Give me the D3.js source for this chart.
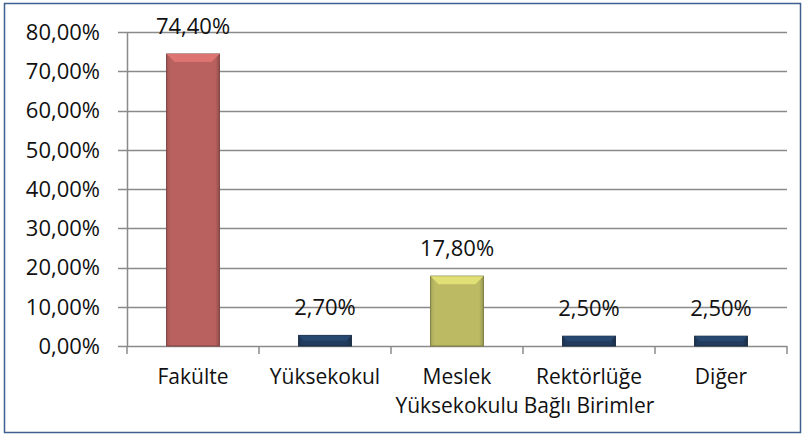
<!DOCTYPE html>
<html><head><meta charset="UTF-8"><style>
body { margin: 0; background: #fff; }
text { font-family: "Open Sans", sans-serif; fill: #111; }
</style>
</head>
<body>
<svg width="805" height="436"></svg>
<script src="https://cdn.jsdelivr.net/npm/d3@7"></script>
<script>

var categories = [["Fakülte"], ["Yüksekokul"], ["Meslek", "Yüksekokulu"], ["Rektörlüğe", "Bağlı Birimler"], ["Diğer"]];
var values = [74.4, 2.7, 17.8, 2.5, 2.5];
var barColors = ["#b9615f", "#213c5e", "#bcbb63", "#213c5e", "#213c5e"];
var yTicks = [0, 10, 20, 30, 40, 50, 60, 70, 80];

var svg = d3.select("svg");

// chart frame
svg.append("rect")
    .attr("x", 4.5).attr("y", 3.5)
    .attr("width", 796).attr("height", 429)
    .attr("fill", "none").attr("stroke", "#3f5f8f").attr("stroke-width", 1.5);

var margin = {top: 32, left: 127, right: 18, bottom: 90};
var width = 805 - margin.left - margin.right,
    height = 436 - margin.top - margin.bottom;
var g = svg.append("g").attr("transform", "translate(" + margin.left + "," + margin.top + ")");

var x = d3.scaleBand().domain(d3.range(values.length)).range([0, width]).paddingInner(0.6).paddingOuter(0.3);
var xTick = d3.scaleLinear().domain([0, values.length]).range([0, width]);
var y = d3.scaleLinear().domain([0, 80]).range([height, 0]);

var fmt = function(v) { return v.toFixed(2).replace(".", ",") + "%"; };

// gridlines
g.append("g").selectAll("line").data(yTicks).enter().append("line")
    .attr("x1", -9).attr("x2", width)
    .attr("y1", function(d) { return Math.round(y(d)) + 0.5; })
    .attr("y2", function(d) { return Math.round(y(d)) + 0.5; })
    .attr("stroke", "#8a8a8a").attr("stroke-width", 1.5);

// y axis line
g.append("line").attr("x1", 0.5).attr("x2", 0.5).attr("y1", 0).attr("y2", height)
    .attr("stroke", "#8a8a8a").attr("stroke-width", 1.5);

// x category ticks
g.append("g").selectAll("line").data(d3.range(values.length + 1)).enter().append("line")
    .attr("x1", function(d) { return xTick(d); }).attr("x2", function(d) { return xTick(d); })
    .attr("y1", height).attr("y2", height + 8)
    .attr("stroke", "#8a8a8a").attr("stroke-width", 1.5);

// y tick labels
g.append("g").selectAll("text").data(yTicks).enter().append("text")
    .attr("x", -27).attr("y", function(d) { return y(d); })
    .attr("dy", "0.36em").attr("text-anchor", "end").attr("font-size", 22)
    .text(fmt);

var defs = svg.append("defs");
barColors.forEach(function(c, i) {
    var lg = defs.append("linearGradient").attr("id", "gr" + i).attr("x1", 0).attr("x2", 1).attr("y1", 0).attr("y2", 0);
    lg.append("stop").attr("offset", "0").attr("stop-color", d3.color(c).darker(0.3));
    lg.append("stop").attr("offset", "0.08").attr("stop-color", c);
    lg.append("stop").attr("offset", "0.92").attr("stop-color", c);
    lg.append("stop").attr("offset", "1").attr("stop-color", d3.color(c).darker(0.6));
});

var bars = g.append("g").selectAll("g").data(values).enter().append("g");

bars.append("rect")
    .attr("x", function(d, i) { return x(i); })
    .attr("y", function(d) { return y(d); })
    .attr("width", x.bandwidth())
    .attr("height", function(d) { return height - y(d); })
    .attr("fill", function(d, i) { return "url(#gr" + i + ")"; })
    .attr("stroke", function(d, i) { return d3.color(barColors[i]).darker(1.2); })
    .attr("stroke-width", 1);

// top bevel
bars.append("path")
    .attr("d", function(d, i) {
        var x0 = x(i), x1 = x(i) + x.bandwidth(), y0 = y(d);
        var b = Math.min(8, (height - y(d)) / 2);
        return "M" + x0 + "," + y0 + "L" + x1 + "," + y0 + "L" + (x1 - b) + "," + (y0 + b) +
            "L" + (x0 + b) + "," + (y0 + b) + "Z";
    })
    .attr("fill", function(d, i) { return d3.color(barColors[i]).brighter(0.5); });

// value labels
g.append("g").selectAll("text").data(values).enter().append("text")
    .attr("x", function(d, i) { return x(i) + x.bandwidth() / 2; })
    .attr("y", function(d) { return y(d) - 20; })
    .attr("text-anchor", "middle").attr("font-size", 22)
    .text(fmt);

// category labels
var cl = g.append("g").selectAll("text").data(categories).enter().append("text")
    .attr("text-anchor", "middle").attr("font-size", 21)
    .attr("transform", function(d, i) { return "translate(" + (x(i) + x.bandwidth() / 2) + "," + (height + 38) + ")"; });
cl.selectAll("tspan").data(function(d) { return d; }).enter().append("tspan")
    .attr("x", 0).attr("dy", function(d, j) { return j ? 29 : 0; })
    .text(function(d) { return d; });

</script>
</body></html>
